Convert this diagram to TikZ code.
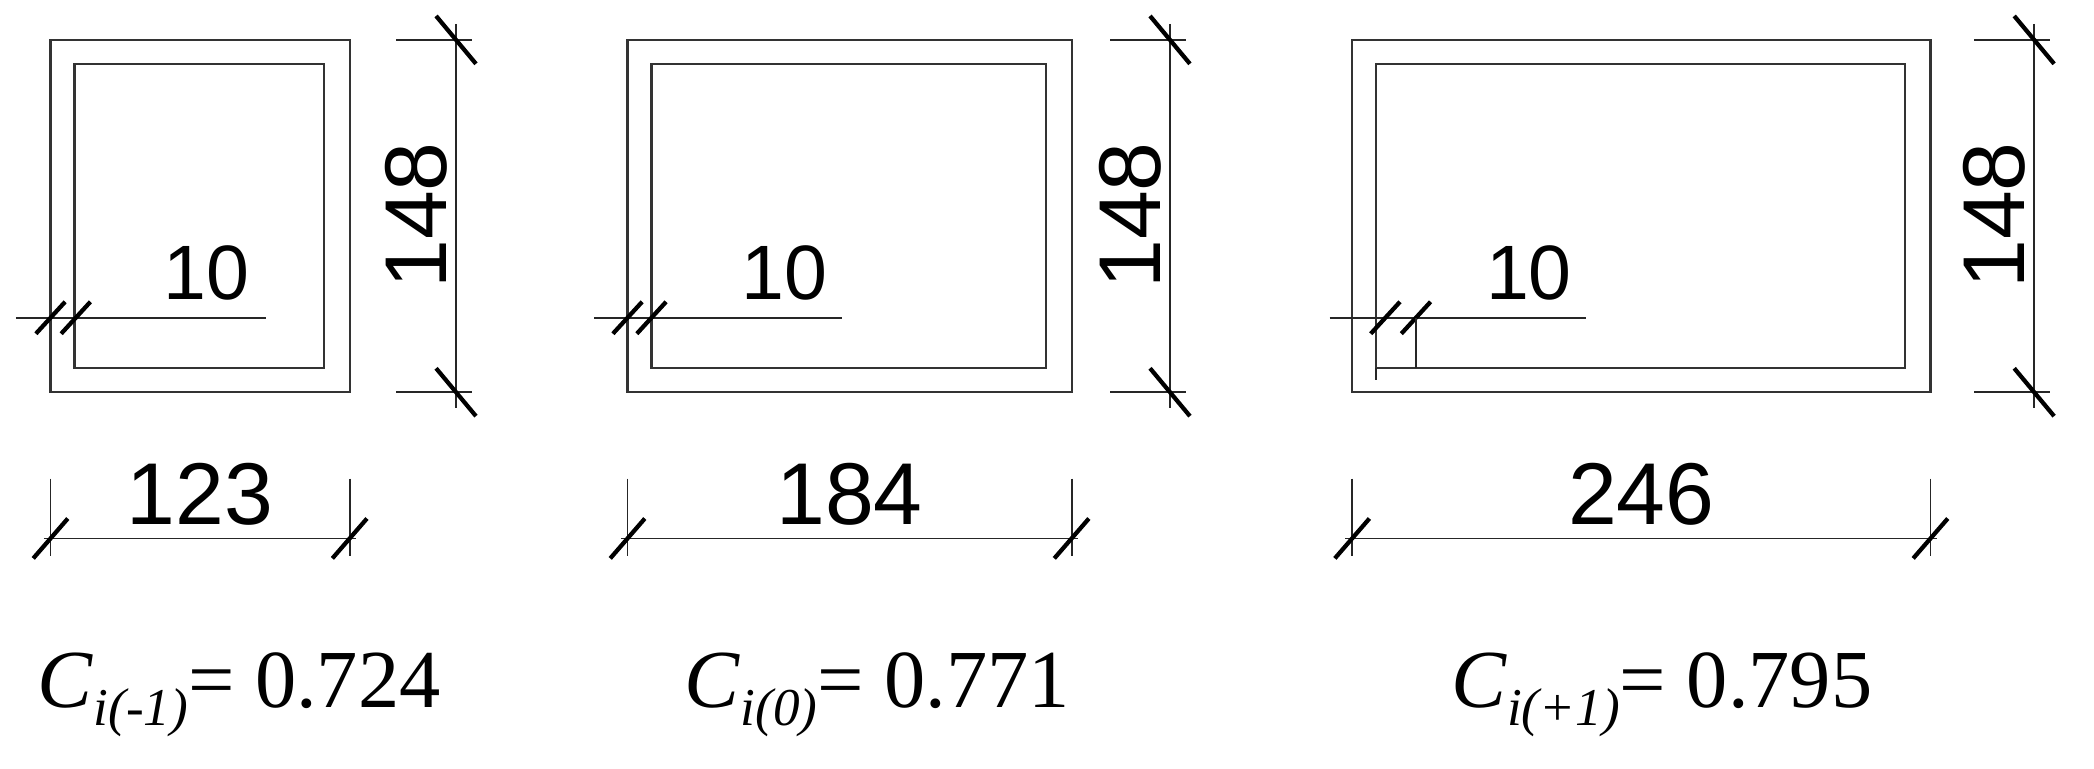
\documentclass[tikz,border=0pt]{standalone}
\usepackage{fontspec}
\setmainfont{Liberation Sans}
\newfontfamily\serifit{Liberation Serif}
\tikzset{
 wall/.style={line width=1.6pt,draw=black!80},
 thin/.style={line width=1.4pt,draw=black!85},
 tk/.style={line width=3.2pt,line cap=butt},
 dimtxt/.style={font=\fontsize{66}{66}\selectfont,inner sep=0pt},
 tentxt/.style={font=\fontsize{58}{58}\selectfont,inner sep=0pt},
 ctxt/.style={font=\serifit\fontsize{62}{62}\selectfont,inner sep=0pt,anchor=base}
}
\newcommand{\csub}[1]{\textit{C}\raisebox{-14pt}{\fontsize{40}{40}\selectfont\textit{#1}}}
\begin{document}
\begin{tikzpicture}[x=1pt,y=-1pt]
\useasboundingbox (0,0) rectangle (1575,578);
\foreach \L/\R/\V/\W/\T/\TX/\LA/\LB/\TA/\TB/\n in {
 38/263/343/123/150/155/12/200/38/57/a,
 472/806/880/184/640/590/447/633/472/490/b,
 1017/1452/1530/246/1235/1150/1000/1193/1042/1065/c}{
 \draw[wall] (\L,30) rectangle (\R,295);
 \draw[wall] (\L+18,48) rectangle (\R-19,277);
 \draw[thin] (\V-45,30) -- (\V+12,30);
 \draw[thin] (\V-45,295) -- (\V+12,295);
 \draw[thin] (\V,18) -- (\V,307);
 \draw[tk] (\V-15,12) -- (\V+15,48);
 \draw[tk] (\V-15,277) -- (\V+15,313);
 \node[dimtxt,rotate=90] (v\n) at (\V-30,162) {148};
 \draw[thin] (\L,360) -- (\L,418);
 \draw[thin] (\R,360) -- (\R,418);
 \draw[thin] (\L-5,405) -- (\R+5,405);
 \draw[tk] (\L-13,420) -- (\L+13,390);
 \draw[tk] (\R-13,420) -- (\R+13,390);
 \node[dimtxt] (h\n) at ({(\L+\R)/2},372) {\W};
 \draw[thin] (\LA,239) -- (\LB,239);
 \draw[tk] (\TA-11,251) -- (\TA+11,227);
 \draw[tk] (\TB-11,251) -- (\TB+11,227);
 \node[tentxt] (t\n) at (\TX,205) {10};
}
\draw[thin] (1035,277) -- (1035,286);
\draw[thin] (1065,239) -- (1065,277);
\node[ctxt] (ca) at (180,532) {\csub{i(-1)}= 0.724};
\node[ctxt] (cb) at (660,532) {\csub{i(0)}= 0.771};
\node[ctxt] (cc) at (1250,532) {\csub{i(+1)}= 0.795};
\end{tikzpicture}
\end{document}
